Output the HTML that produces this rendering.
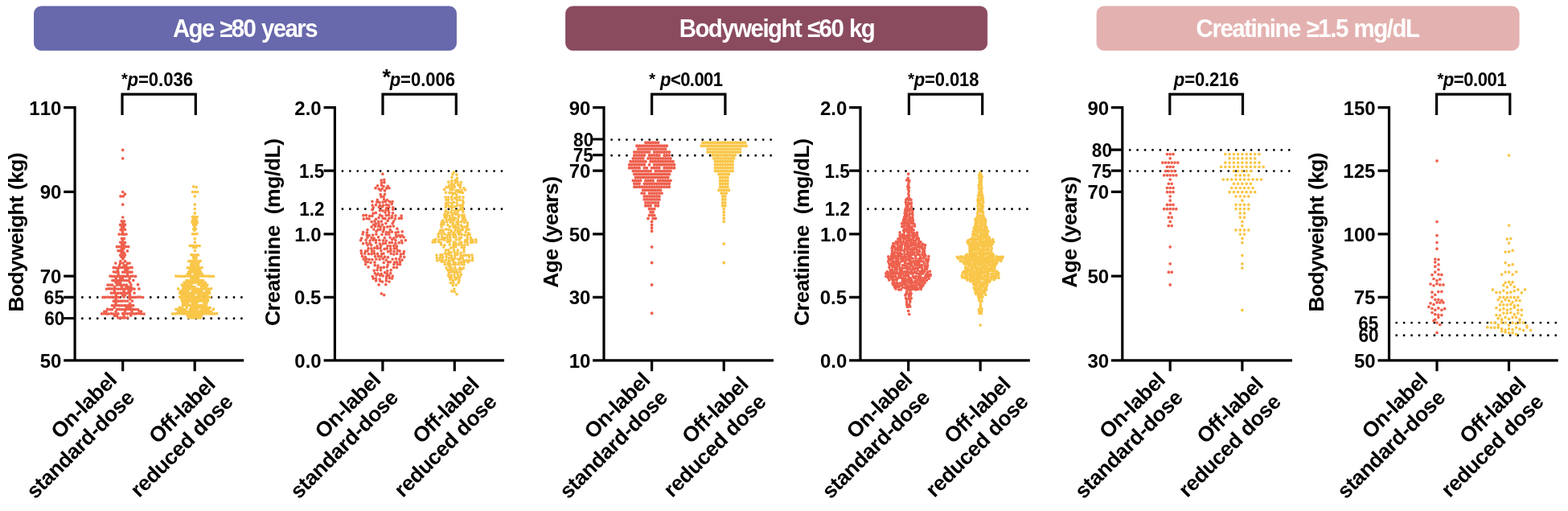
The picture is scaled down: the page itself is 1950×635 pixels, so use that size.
<!DOCTYPE html>
<html lang="en">
<head>
<meta charset="utf-8">
<title>Figure</title>
<style>
html,body{margin:0;padding:0;background:#fff;}
body{width:1950px;height:635px;overflow:hidden;}
svg{display:block;}
text{font-family:"Liberation Sans", Arial, Helvetica, sans-serif;font-weight:bold;fill:#000;font-kerning:none;}
.hd{font-size:31px;fill:#fff;}
.xl{font-size:26.5px;letter-spacing:-0.45px;}
</style>
</head>
<body>
<svg width="1950" height="635" viewBox="0 0 1950 635">
<rect width="1950" height="635" fill="#fff"/>
<rect x="42.5" y="7.9" width="525.0" height="54.5" rx="8.6" ry="8.6" fill="#6868ac" stroke="#6060a8" stroke-width="0.8"/>
<text transform="translate(214.88,46.1) scale(0.95,1)" class="hd" style="letter-spacing:-1.67px;word-spacing:1.00px">Age ≥80 years</text>
<rect x="703.6" y="7.9" width="524.1" height="54.5" rx="8.6" ry="8.6" fill="#8b4b5f" stroke="#84425a" stroke-width="0.8"/>
<text transform="translate(844.64,46.1) scale(0.95,1)" class="hd" style="letter-spacing:-1.59px;word-spacing:1.00px">Bodyweight ≤60 kg</text>
<rect x="1364.1" y="7.9" width="525.0" height="54.5" rx="8.6" ry="8.6" fill="#e3b2b0" stroke="#e2aaa9" stroke-width="0.8"/>
<text transform="translate(1487.59,46.1) scale(0.95,1)" class="hd" style="letter-spacing:-1.53px;word-spacing:1.00px">Creatinine ≥1.5 mg/dL</text>
<path d="M102.40 369.5H301.40" stroke="#000" stroke-width="2.9" stroke-linecap="round" stroke-dasharray="0 9.43" fill="none"/>
<path d="M102.40 395.7H301.40" stroke="#000" stroke-width="2.9" stroke-linecap="round" stroke-dasharray="0 9.43" fill="none"/>
<path d="M151.2 274.9h0M154.4 274.9h0M152.7 277.3h0M149.6 279.4h0M152.9 279.2h0M155.5 279.2h0M151.4 282.1h0M153.9 282.2h0M150.1 285.6h0M152.5 285.3h0M155.6 285.3h0M152.5 288.2h0M148.1 291.1h0M151.5 291.1h0M154.1 291.2h0M157.0 291.0h0M151.5 296.4h0M154.4 296.3h0M152.6 298.5h0M149.7 301.0h0M152.6 301.4h0M155.5 301.4h0M151.5 303.8h0M154.0 304.2h0M145.4 306.7h0M148.1 306.6h0M151.1 306.3h0M154.4 306.6h0M156.9 306.3h0M159.7 306.6h0M151.1 309.0h0M154.1 308.8h0M147.0 311.5h0M149.6 311.7h0M152.6 311.9h0M158.4 311.9h0M151.1 314.2h0M154.4 314.4h0M149.6 317.1h0M152.6 317.0h0M155.5 316.8h0M151.0 319.3h0M154.2 319.4h0M152.8 321.7h0M149.8 324.7h0M155.6 324.7h0M143.8 327.0h0M149.6 327.0h0M153.0 327.0h0M158.6 327.2h0M161.2 327.0h0M148.6 329.8h0M154.3 329.9h0M156.9 329.7h0M141.2 332.4h0M144.0 332.8h0M146.8 332.8h0M149.5 332.5h0M152.4 332.4h0M155.6 332.4h0M158.7 332.8h0M161.5 332.6h0M164.1 332.4h0M146.6 335.5h0M155.7 335.3h0M158.6 335.2h0M141.4 337.8h0M144.1 338.2h0M147.0 338.1h0M152.8 338.2h0M155.6 338.1h0M158.5 338.1h0M161.4 338.1h0M164.0 338.1h0M147.2 340.8h0M158.5 340.6h0M137.0 343.0h0M139.4 343.3h0M142.4 343.3h0M145.5 343.4h0M148.1 343.1h0M151.1 343.0h0M154.2 343.2h0M156.9 343.3h0M159.9 343.4h0M163.1 343.1h0M165.6 343.0h0M168.6 343.4h0M144.2 346.0h0M149.6 345.9h0M152.5 345.9h0M161.3 346.1h0M139.9 348.5h0M142.3 348.7h0M145.6 348.5h0M148.5 348.3h0M151.2 348.3h0M154.0 348.3h0M157.1 348.5h0M160.0 348.7h0M165.9 348.3h0M144.0 351.0h0M146.9 351.3h0M149.7 351.1h0M161.6 351.1h0M134.0 354.1h0M137.0 354.0h0M139.6 354.0h0M145.5 354.1h0M148.6 353.9h0M151.1 354.0h0M154.2 354.0h0M157.3 354.1h0M163.0 353.8h0M171.5 353.7h0M142.5 356.4h0M151.4 356.2h0M157.0 356.5h0M159.7 356.4h0M163.0 356.6h0M132.5 359.1h0M135.6 358.7h0M138.2 358.8h0M141.2 358.9h0M144.0 358.8h0M147.1 359.1h0M150.0 359.1h0M152.7 358.8h0M155.6 359.0h0M158.8 358.9h0M161.6 358.9h0M164.4 358.7h0M167.1 359.1h0M172.9 358.9h0M142.3 361.6h0M154.0 361.7h0M160.1 361.4h0M162.7 361.5h0M138.3 364.1h0M141.2 364.0h0M143.8 364.2h0M146.7 364.2h0M149.7 364.2h0M152.5 364.1h0M155.7 364.2h0M158.6 364.4h0M161.5 364.4h0M167.1 364.1h0M144.3 366.7h0M152.5 366.9h0M155.4 367.0h0M161.6 366.6h0M128.0 369.4h0M130.8 369.4h0M134.1 369.1h0M136.9 369.3h0M139.5 369.1h0M142.3 369.3h0M145.5 369.1h0M148.2 369.5h0M153.9 369.1h0M160.1 369.2h0M162.9 369.3h0M165.5 369.4h0M168.5 369.3h0M171.5 369.1h0M174.5 369.1h0M177.6 369.5h0M144.1 371.9h0M161.6 371.6h0M141.3 374.2h0M144.2 374.1h0M147.1 374.2h0M150.0 374.1h0M152.4 374.0h0M155.3 374.0h0M158.6 374.0h0M164.4 374.0h0M144.1 376.8h0M161.6 377.0h0M139.4 379.6h0M142.4 379.5h0M145.3 379.4h0M148.2 379.7h0M151.3 379.7h0M154.4 379.6h0M156.8 379.5h0M159.7 379.7h0M162.8 379.3h0M165.7 379.6h0M142.3 382.2h0M157.1 382.0h0M160.1 381.9h0M162.6 381.9h0M133.6 384.2h0M136.7 384.6h0M139.4 384.6h0M145.7 384.4h0M148.6 384.3h0M151.5 384.5h0M154.4 384.6h0M156.8 384.5h0M159.8 384.2h0M162.6 384.4h0M165.7 384.3h0M168.6 384.5h0M171.6 384.6h0M129.8 387.0h0M132.2 387.1h0M144.1 386.9h0M155.4 387.1h0M164.0 386.8h0M173.0 386.7h0M175.7 387.0h0M126.6 389.9h0M129.5 389.7h0M132.5 390.0h0M135.1 390.0h0M138.4 389.7h0M141.0 390.0h0M144.1 390.0h0M146.9 389.9h0M152.6 389.6h0M155.3 389.6h0M158.5 389.9h0M161.6 389.6h0M164.4 389.6h0M167.3 389.9h0M169.9 389.7h0M172.9 389.6h0M175.9 390.0h0M179.1 390.0h0M142.5 392.5h0M145.3 392.2h0M154.1 392.2h0M162.8 392.1h0M146.9 394.9h0M150.0 394.8h0M152.9 395.0h0M155.3 394.8h0M158.5 394.8h0M152.7 186.4h0M152.7 196.8h0M152.7 238.5h0M155.4 241.2h0M150.0 243.9h0M153.2 243.9h0M152.7 254.2h0M152.7 270.0h0" stroke="#ee5f4d" stroke-width="3.7" stroke-linecap="round" fill="none"/>
<path d="M242.2 264.9h0M239.4 269.3h0M242.1 269.4h0M245.3 269.6h0M240.8 272.0h0M243.7 271.8h0M239.3 274.1h0M241.9 274.5h0M244.8 274.4h0M239.2 276.7h0M241.9 276.5h0M245.3 276.7h0M240.5 279.6h0M243.9 279.2h0M242.2 281.8h0M240.6 284.6h0M243.4 284.6h0M241.9 286.3h0M239.5 290.8h0M242.3 290.8h0M245.0 290.6h0M242.3 296.7h0M242.5 301.1h0M236.3 305.4h0M239.4 305.3h0M242.1 305.5h0M245.1 305.3h0M248.2 305.5h0M240.8 307.4h0M243.6 307.4h0M242.4 311.5h0M237.9 316.7h0M240.5 316.8h0M243.7 316.7h0M246.5 316.8h0M240.6 319.5h0M243.9 319.5h0M241.0 321.6h0M243.9 321.7h0M234.8 324.6h0M237.6 324.4h0M240.7 324.4h0M243.4 324.6h0M246.8 324.5h0M249.2 324.4h0M238.0 327.4h0M240.6 327.2h0M243.7 327.1h0M246.8 327.4h0M237.6 329.8h0M240.6 330.1h0M243.8 330.0h0M246.4 329.8h0M233.4 332.7h0M236.2 332.8h0M239.1 332.6h0M242.2 332.7h0M245.4 332.7h0M248.1 332.8h0M251.1 332.6h0M236.3 335.2h0M239.3 335.1h0M242.4 335.4h0M245.3 335.3h0M248.2 335.2h0M234.7 337.9h0M238.1 338.1h0M240.8 337.8h0M243.8 337.9h0M246.5 337.9h0M249.6 337.8h0M233.3 340.5h0M236.6 340.7h0M241.9 340.6h0M244.9 340.7h0M247.8 340.5h0M251.2 340.4h0M218.9 343.1h0M221.9 343.1h0M224.8 343.3h0M227.7 343.3h0M230.4 343.2h0M233.7 343.1h0M236.6 343.1h0M239.4 343.4h0M242.3 343.1h0M245.0 343.2h0M247.9 343.0h0M250.9 343.1h0M254.0 343.1h0M256.8 343.1h0M259.8 343.1h0M262.6 343.4h0M265.5 343.3h0M237.8 345.9h0M240.7 345.7h0M243.6 346.0h0M246.4 345.7h0M231.9 348.7h0M234.7 348.7h0M238.0 348.4h0M240.6 348.3h0M243.8 348.4h0M246.3 348.4h0M249.3 348.3h0M252.5 348.4h0M229.0 351.0h0M232.3 351.3h0M235.1 351.2h0M237.9 351.3h0M240.8 351.3h0M243.7 351.1h0M246.6 351.3h0M249.7 351.2h0M252.5 351.4h0M255.4 351.2h0M226.2 354.0h0M229.4 353.7h0M231.8 353.7h0M234.7 353.8h0M238.0 354.0h0M246.8 353.7h0M249.7 353.9h0M252.5 353.9h0M255.1 353.8h0M257.9 354.0h0M228.0 356.6h0M230.9 356.3h0M233.8 356.5h0M236.1 356.3h0M239.4 356.6h0M242.1 356.3h0M250.7 356.5h0M253.7 356.3h0M256.6 356.5h0M221.7 358.9h0M227.6 358.9h0M230.7 359.0h0M233.5 358.9h0M236.3 358.8h0M239.6 358.8h0M242.2 358.7h0M244.9 358.8h0M247.9 359.1h0M250.8 359.0h0M253.8 359.0h0M256.8 358.7h0M259.8 359.1h0M262.6 358.7h0M224.8 361.5h0M227.5 361.4h0M230.7 361.6h0M233.8 361.6h0M239.3 361.5h0M242.4 361.5h0M245.2 361.6h0M248.1 361.7h0M250.8 361.4h0M256.6 361.8h0M259.8 361.4h0M223.6 364.2h0M226.1 364.2h0M228.9 364.0h0M231.8 364.0h0M234.9 364.2h0M238.1 364.0h0M241.0 364.4h0M243.7 364.1h0M246.8 364.3h0M249.6 364.1h0M252.6 364.0h0M255.1 364.4h0M258.2 364.2h0M260.8 364.2h0M226.2 366.8h0M229.4 366.8h0M232.3 367.0h0M235.0 367.0h0M238.1 366.6h0M240.8 366.9h0M246.5 366.9h0M249.5 366.9h0M252.6 366.9h0M255.1 366.6h0M257.9 366.6h0M223.6 369.1h0M226.0 369.5h0M229.0 369.5h0M232.3 369.2h0M235.0 369.2h0M238.0 369.4h0M240.9 369.2h0M243.6 369.1h0M246.6 369.2h0M249.4 369.3h0M252.4 369.3h0M255.5 369.5h0M258.4 369.2h0M261.3 369.1h0M226.1 372.1h0M229.3 371.8h0M232.3 371.7h0M234.9 372.1h0M238.1 372.0h0M241.0 371.8h0M243.9 372.1h0M246.5 371.8h0M249.2 371.7h0M252.6 372.1h0M255.4 371.9h0M258.3 372.0h0M226.5 374.3h0M229.2 373.9h0M232.0 373.9h0M234.9 373.9h0M237.7 374.3h0M240.8 374.1h0M243.5 374.3h0M246.6 374.2h0M249.5 373.9h0M252.4 373.9h0M255.4 374.1h0M258.4 373.9h0M227.5 377.0h0M230.7 376.8h0M233.8 376.8h0M239.2 376.8h0M242.4 376.7h0M244.9 376.7h0M253.8 376.6h0M256.9 376.6h0M227.5 379.5h0M230.4 379.3h0M233.2 379.6h0M236.3 379.4h0M239.6 379.7h0M242.0 379.3h0M245.3 379.7h0M247.9 379.7h0M250.6 379.4h0M253.7 379.6h0M256.5 379.6h0M223.2 382.2h0M226.5 382.2h0M232.3 382.4h0M237.7 382.3h0M240.6 382.3h0M243.4 382.0h0M246.4 382.4h0M249.7 382.4h0M252.5 382.3h0M255.0 382.4h0M258.1 382.3h0M261.2 382.4h0M218.9 384.3h0M221.6 384.6h0M224.7 384.3h0M227.5 384.2h0M230.4 384.5h0M236.4 384.3h0M239.2 384.2h0M242.1 384.2h0M245.4 384.5h0M251.0 384.3h0M254.1 384.5h0M256.5 384.5h0M259.4 384.3h0M265.5 384.2h0M221.6 387.2h0M224.8 386.9h0M227.7 387.1h0M230.4 387.1h0M233.2 387.1h0M236.5 387.2h0M239.6 386.9h0M242.1 386.9h0M244.8 387.3h0M248.3 386.9h0M251.2 387.2h0M253.9 387.1h0M256.7 387.1h0M259.7 387.1h0M262.8 387.2h0M214.5 389.9h0M217.5 389.8h0M220.2 389.6h0M223.4 389.6h0M226.5 389.8h0M229.2 389.8h0M231.9 389.9h0M235.2 389.8h0M238.1 390.0h0M241.0 389.6h0M243.8 389.7h0M246.6 389.8h0M249.4 389.9h0M252.1 389.9h0M255.5 389.8h0M257.9 389.6h0M260.8 390.0h0M263.9 389.9h0M266.8 389.9h0M269.7 389.6h0M233.2 392.2h0M236.5 392.1h0M239.3 392.1h0M242.0 392.2h0M245.1 392.0h0M248.2 392.1h0M251.0 392.0h0M234.7 394.8h0M238.0 394.7h0M240.7 395.0h0M243.8 394.6h0M246.4 394.8h0M249.2 395.0h0M240.7 231.8h0M244.2 232.5h0M239.4 238.5h0M242.7 238.5h0M245.7 238.5h0M242.2 243.9h0M242.2 254.2h0M242.2 259.6h0" stroke="#f9c648" stroke-width="3.7" stroke-linecap="round" fill="none"/>
<path d="M93.1 132.1V447.9M79.2 447.9H303.2M79.2 133.7H93.1M79.2 238.4H93.1M79.2 343.2H93.1M79.2 369.3H93.1M79.2 395.5H93.1M152.7 447.9v13.4M242.2 447.9v13.4" stroke="#000" stroke-width="3.2" fill="none"/>
<text x="76.38" y="142.6" font-size="24" text-anchor="end">110</text>
<text x="76.38" y="247.3" font-size="24" text-anchor="end">90</text>
<text x="76.38" y="352.1" font-size="24" text-anchor="end">70</text>
<text transform="translate(79.92,378.1) scale(0.92,1)" font-size="24.5" text-anchor="end">65</text>
<text transform="translate(80.22,404.3) scale(0.92,1)" font-size="24.5" text-anchor="end">60</text>
<text x="76.38" y="456.8" font-size="24" text-anchor="end">50</text>
<text transform="translate(28.8,385.7) rotate(-90)" x="-1.76" y="0" font-size="26.5" style="letter-spacing:-0.65px;word-spacing:1.07px">Bodyweight (kg)</text>
<path d="M152.0 143V117.2H243.3V143" stroke="#000" stroke-width="3.2" fill="none" stroke-linejoin="miter"/>
<text transform="translate(158.49,107.2) scale(0.92,1)" font-size="24" style="letter-spacing:-0.02px"><tspan font-style="italic">p</tspan>=0.036</text>
<text x="151.1" y="104.8" font-size="20">*</text>
<g transform="translate(146.7,474.0) rotate(-45)"><text class="xl" text-anchor="end" x="0" y="0">On-label</text><text class="xl" text-anchor="end" x="0" y="31">standard-dose</text></g>
<g transform="translate(269.2,479.3) rotate(-45)"><text class="xl" text-anchor="end" x="0" y="0">Off-label</text><text class="xl" text-anchor="end" x="0" y="31">reduced dose</text></g>
<path d="M425.95 212.6H624.95" stroke="#000" stroke-width="2.9" stroke-linecap="round" stroke-dasharray="0 9.43" fill="none"/>
<path d="M425.95 259.7H624.95" stroke="#000" stroke-width="2.9" stroke-linecap="round" stroke-dasharray="0 9.43" fill="none"/>
<path d="M474.2 224.0h0M477.8 223.3h0M474.4 227.2h0M477.9 226.7h0M469.6 230.8h0M474.4 230.1h0M477.0 231.5h0M482.3 231.3h0M467.0 233.7h0M471.2 234.8h0M475.2 234.6h0M480.6 233.9h0M483.9 233.7h0M473.3 236.6h0M478.5 236.9h0M473.3 241.6h0M478.6 241.3h0M474.0 244.6h0M477.2 244.2h0M469.3 248.4h0M477.6 247.5h0M481.6 248.5h0M463.0 250.3h0M468.7 251.0h0M471.9 251.4h0M476.0 251.1h0M479.3 250.4h0M484.6 250.7h0M488.0 250.7h0M463.1 255.0h0M467.6 254.7h0M472.6 255.2h0M476.7 255.2h0M480.5 254.4h0M483.4 255.1h0M487.2 253.6h0M464.3 257.8h0M471.4 257.4h0M475.3 257.0h0M480.6 258.7h0M483.8 257.4h0M488.7 257.8h0M463.0 260.7h0M472.5 261.4h0M476.0 261.8h0M479.9 260.8h0M483.0 261.5h0M488.7 260.3h0M464.1 265.2h0M467.4 264.4h0M479.1 263.9h0M483.8 264.0h0M488.5 264.9h0M451.9 267.7h0M455.3 267.4h0M459.6 268.4h0M463.0 268.4h0M472.4 267.1h0M475.1 268.5h0M480.2 267.6h0M483.5 267.2h0M487.5 268.7h0M491.9 268.1h0M499.1 268.2h0M452.3 272.2h0M456.2 271.4h0M459.1 272.0h0M467.5 272.3h0M471.1 270.6h0M476.3 271.3h0M479.0 271.7h0M483.9 271.2h0M487.4 270.6h0M491.4 271.8h0M496.3 271.3h0M499.4 271.2h0M462.1 275.6h0M465.8 274.8h0M470.6 275.3h0M474.3 275.1h0M482.2 274.3h0M489.6 275.0h0M464.7 279.1h0M467.5 277.9h0M471.2 278.3h0M475.5 279.0h0M479.8 277.5h0M488.2 277.7h0M462.1 281.9h0M466.7 281.3h0M470.5 281.0h0M473.3 281.8h0M477.6 282.4h0M481.7 281.8h0M485.3 281.4h0M489.4 281.0h0M457.0 285.6h0M465.0 285.0h0M470.0 285.4h0M473.0 285.1h0M477.5 284.9h0M485.2 285.5h0M493.9 284.2h0M451.7 288.5h0M456.4 289.0h0M468.0 287.6h0M476.3 287.8h0M480.4 288.6h0M483.8 288.9h0M487.4 288.1h0M492.1 289.1h0M495.1 288.4h0M500.2 287.8h0M451.1 291.0h0M456.2 292.1h0M459.1 292.6h0M463.7 292.1h0M467.9 291.0h0M475.0 291.5h0M480.1 291.2h0M483.8 291.2h0M492.6 292.1h0M496.3 292.5h0M499.9 292.5h0M449.7 296.0h0M457.0 294.9h0M462.0 295.7h0M465.2 296.0h0M470.5 294.7h0M478.3 295.6h0M485.1 295.0h0M489.9 295.8h0M493.2 294.3h0M498.0 294.3h0M502.1 294.7h0M448.6 298.6h0M455.2 298.1h0M460.1 299.1h0M464.1 298.2h0M467.6 298.6h0M471.9 298.5h0M476.4 298.8h0M480.3 299.0h0M487.7 297.7h0M492.0 298.7h0M499.4 299.0h0M504.4 298.6h0M451.6 302.6h0M455.8 301.8h0M460.0 302.3h0M467.6 301.6h0M472.4 302.8h0M476.5 302.7h0M479.5 302.2h0M484.4 301.6h0M487.5 301.5h0M491.8 302.4h0M496.2 301.7h0M500.1 301.8h0M457.2 304.6h0M461.7 304.7h0M469.0 305.8h0M473.7 305.4h0M482.1 305.6h0M485.6 305.9h0M489.8 305.4h0M493.4 305.9h0M458.1 308.7h0M462.0 308.9h0M465.8 308.2h0M469.5 308.5h0M473.0 308.2h0M478.1 309.4h0M481.2 308.9h0M485.7 309.3h0M490.2 308.9h0M493.1 308.3h0M449.1 311.7h0M454.4 312.2h0M457.0 311.8h0M462.6 311.9h0M465.0 312.2h0M474.0 311.6h0M482.7 312.7h0M485.9 311.6h0M490.1 312.5h0M494.4 311.4h0M497.1 311.9h0M502.4 312.7h0M449.5 314.9h0M453.7 315.1h0M458.5 315.5h0M462.1 315.6h0M465.6 315.1h0M469.5 315.3h0M474.6 315.5h0M477.0 315.1h0M486.2 315.1h0M489.8 316.0h0M493.6 315.2h0M498.4 315.9h0M501.8 315.3h0M450.5 318.4h0M454.3 319.3h0M466.7 318.7h0M470.7 318.4h0M474.1 318.6h0M478.4 319.2h0M482.4 319.7h0M498.2 319.0h0M502.7 319.3h0M452.1 322.0h0M455.6 321.7h0M459.1 322.3h0M463.0 322.6h0M467.9 322.0h0M472.2 322.2h0M476.3 321.7h0M480.2 323.0h0M488.1 322.1h0M492.5 321.7h0M496.6 322.1h0M500.1 323.0h0M454.4 324.9h0M457.3 325.5h0M461.0 326.3h0M466.0 325.9h0M477.3 326.3h0M482.6 325.5h0M485.3 325.6h0M490.5 326.2h0M493.4 325.5h0M497.5 325.7h0M454.7 328.5h0M466.2 329.7h0M470.1 330.1h0M482.2 329.2h0M489.9 328.5h0M494.3 328.4h0M497.5 328.6h0M458.1 331.8h0M470.0 332.4h0M473.7 332.5h0M477.3 332.2h0M481.4 331.8h0M489.7 332.3h0M493.4 332.3h0M465.2 336.1h0M469.1 335.5h0M473.6 335.6h0M481.8 336.5h0M486.2 335.7h0M466.3 339.5h0M470.1 340.2h0M474.2 340.3h0M478.6 338.7h0M481.4 339.9h0M485.7 339.5h0M463.4 343.5h0M468.1 342.1h0M472.7 342.3h0M476.2 342.8h0M480.7 343.3h0M483.7 342.7h0M488.2 343.1h0M464.2 346.1h0M467.5 346.0h0M472.2 347.1h0M480.5 346.2h0M484.6 345.4h0M487.6 346.0h0M467.7 348.8h0M472.7 349.1h0M475.6 350.1h0M480.3 349.0h0M484.0 350.0h0M471.1 353.8h0M479.8 353.6h0M475.9 216.2h0M474.4 364.8h0M477.7 366.6h0" stroke="#ee5f4d" stroke-width="3.7" stroke-linecap="round" fill="none"/>
<path d="M562.9 216.6h0M568.0 216.9h0M562.0 220.3h0M568.4 221.4h0M561.9 224.5h0M566.1 224.1h0M568.1 224.4h0M557.8 226.2h0M561.8 227.6h0M566.1 226.9h0M569.1 226.4h0M573.3 226.5h0M558.9 230.2h0M562.3 230.2h0M564.5 230.0h0M569.7 229.9h0M572.5 229.7h0M555.2 232.7h0M558.2 232.6h0M561.8 232.9h0M565.4 232.3h0M572.4 232.8h0M576.9 233.8h0M552.5 235.4h0M560.0 235.8h0M563.2 235.5h0M567.2 236.6h0M570.2 236.4h0M574.1 236.7h0M578.7 236.0h0M554.5 239.2h0M559.0 239.6h0M562.1 239.5h0M565.8 239.8h0M569.7 238.3h0M572.7 238.9h0M575.5 239.5h0M563.1 241.5h0M567.9 242.0h0M554.0 245.0h0M557.5 245.0h0M561.6 244.9h0M565.7 246.2h0M568.1 245.2h0M571.7 244.9h0M576.1 245.2h0M554.9 248.4h0M557.6 248.1h0M562.0 247.9h0M568.1 248.5h0M571.7 248.5h0M575.3 249.0h0M554.7 252.5h0M557.6 251.7h0M561.4 252.3h0M564.4 251.4h0M568.3 252.1h0M576.2 251.4h0M554.5 254.1h0M557.5 255.3h0M562.1 255.3h0M568.7 255.4h0M572.3 255.0h0M575.6 254.1h0M554.3 257.3h0M558.9 257.2h0M562.4 258.0h0M565.8 256.9h0M573.1 258.4h0M575.4 257.0h0M554.5 261.7h0M561.9 261.3h0M566.1 261.7h0M569.6 261.4h0M572.2 260.5h0M575.6 260.1h0M554.1 263.1h0M557.4 263.9h0M561.1 264.0h0M565.0 264.6h0M569.0 264.7h0M575.9 263.2h0M552.7 266.6h0M555.8 266.8h0M559.1 268.0h0M562.8 267.1h0M567.1 266.3h0M570.5 267.8h0M574.2 267.3h0M577.1 267.4h0M553.0 269.9h0M555.4 269.4h0M559.8 270.7h0M563.5 270.4h0M566.2 271.0h0M570.3 269.7h0M575.1 269.9h0M577.7 270.3h0M550.7 274.1h0M555.1 272.9h0M558.6 272.8h0M562.0 273.4h0M564.8 273.4h0M569.4 273.1h0M575.6 273.1h0M579.0 273.7h0M549.3 276.1h0M552.0 276.7h0M555.8 275.7h0M560.2 276.0h0M563.4 277.0h0M567.9 276.4h0M570.0 276.2h0M573.7 275.7h0M577.5 276.3h0M581.4 276.8h0M548.6 278.9h0M551.9 278.8h0M556.9 279.6h0M563.2 279.4h0M566.6 280.0h0M569.9 279.2h0M573.7 280.2h0M581.5 280.2h0M549.2 282.0h0M559.7 281.8h0M564.1 282.4h0M567.3 283.1h0M570.3 282.9h0M574.9 282.3h0M577.8 282.0h0M580.6 281.9h0M547.8 286.2h0M550.6 286.0h0M554.3 284.9h0M557.6 285.1h0M560.9 286.4h0M566.0 286.1h0M569.6 286.3h0M573.2 285.7h0M575.5 285.4h0M580.3 285.0h0M583.0 285.0h0M547.0 288.6h0M551.2 288.3h0M558.0 289.3h0M561.3 288.1h0M564.8 289.2h0M569.3 288.4h0M572.1 288.6h0M579.2 288.2h0M582.9 289.6h0M545.0 291.1h0M549.3 291.2h0M553.2 291.0h0M556.6 292.4h0M559.8 291.9h0M563.5 291.4h0M566.3 291.3h0M570.8 291.4h0M574.3 291.4h0M578.1 292.2h0M581.5 292.0h0M584.2 291.6h0M545.3 294.3h0M549.7 294.3h0M552.7 295.7h0M555.8 295.5h0M559.5 295.2h0M564.1 294.7h0M566.9 294.3h0M571.2 295.9h0M573.5 295.4h0M581.3 295.4h0M585.6 295.4h0M539.2 298.6h0M541.8 297.4h0M546.1 298.1h0M549.6 297.4h0M552.7 298.1h0M557.1 298.6h0M560.2 298.2h0M567.3 297.9h0M571.2 297.9h0M578.7 298.5h0M581.3 297.2h0M585.6 298.5h0M587.9 298.4h0M591.9 297.9h0M538.1 301.1h0M541.3 300.7h0M545.5 300.4h0M548.4 301.6h0M556.3 300.5h0M559.2 300.4h0M564.2 300.9h0M566.8 302.0h0M571.4 302.1h0M573.8 301.2h0M578.3 300.7h0M581.1 300.6h0M585.6 301.3h0M588.2 300.9h0M592.1 300.8h0M548.6 303.9h0M552.9 304.5h0M559.2 304.1h0M563.9 304.4h0M567.1 304.6h0M570.6 303.8h0M574.3 304.7h0M577.9 304.5h0M581.6 303.8h0M551.8 307.0h0M560.8 308.0h0M563.4 307.5h0M566.8 306.8h0M574.1 307.2h0M577.2 307.5h0M554.5 310.9h0M557.8 310.7h0M564.7 310.8h0M569.4 310.9h0M577.0 310.0h0M553.7 314.5h0M558.0 313.8h0M561.1 313.6h0M565.3 314.0h0M568.8 313.8h0M573.0 314.3h0M576.9 313.0h0M543.0 317.1h0M547.9 316.7h0M550.1 316.9h0M555.1 316.0h0M558.4 316.4h0M561.5 317.6h0M565.9 317.3h0M568.8 316.3h0M573.2 317.4h0M576.8 317.2h0M579.9 317.2h0M583.1 317.0h0M586.9 316.8h0M543.3 320.5h0M547.3 320.0h0M550.7 319.8h0M555.1 319.2h0M558.6 320.5h0M561.9 320.1h0M566.0 320.7h0M572.9 319.6h0M575.4 320.5h0M583.3 319.3h0M587.7 320.3h0M543.8 323.8h0M547.1 322.7h0M550.2 323.1h0M554.8 322.8h0M558.5 323.5h0M562.2 323.4h0M564.4 322.2h0M569.7 322.1h0M572.3 322.1h0M576.7 323.5h0M580.4 323.4h0M583.9 323.7h0M587.6 323.4h0M549.2 325.1h0M552.7 325.4h0M557.0 326.7h0M559.0 326.4h0M564.2 325.9h0M566.3 326.5h0M570.6 326.0h0M573.8 325.9h0M577.3 325.3h0M582.1 325.7h0M553.4 328.5h0M557.2 329.0h0M560.2 329.1h0M563.9 328.6h0M566.2 328.8h0M570.0 328.5h0M573.9 328.2h0M577.1 328.6h0M555.0 332.8h0M559.0 331.8h0M561.6 333.0h0M565.7 332.7h0M572.2 332.5h0M576.6 333.0h0M556.7 335.7h0M559.2 335.4h0M563.2 335.5h0M567.2 335.4h0M571.1 334.5h0M574.4 334.6h0M558.4 338.8h0M561.8 337.8h0M565.3 338.4h0M568.5 338.4h0M572.0 337.9h0M557.5 342.0h0M561.0 342.0h0M564.9 341.8h0M569.3 341.6h0M573.4 341.2h0M559.0 344.6h0M561.4 345.2h0M565.5 344.6h0M568.7 345.4h0M571.8 344.4h0M560.0 347.2h0M563.4 348.5h0M566.7 347.1h0M571.1 348.2h0M560.4 351.5h0M563.7 351.3h0M570.2 351.2h0M563.3 354.6h0M567.3 354.0h0M564.4 214.0h0M564.8 359.0h0M561.8 361.8h0M565.3 362.5h0M568.1 365.5h0" stroke="#f9c648" stroke-width="3.7" stroke-linecap="round" fill="none"/>
<path d="M416.4 132.1V447.9M402.6 447.9H627.0M402.6 133.7H416.4M402.6 212.2H416.4M402.6 290.8H416.4M402.6 369.3H416.4M475.9 447.9v13.4M565.3 447.9v13.4" stroke="#000" stroke-width="3.2" fill="none"/>
<text x="399.73" y="142.6" font-size="24" text-anchor="end">2.0</text>
<text transform="translate(403.27,221.1) scale(0.92,1)" font-size="24.5" text-anchor="end">1.5</text>
<text transform="translate(403.54,268.2) scale(0.92,1)" font-size="24.5" text-anchor="end">1.2</text>
<text x="399.73" y="299.7" font-size="24" text-anchor="end">1.0</text>
<text x="399.41" y="378.2" font-size="24" text-anchor="end">0.5</text>
<text x="399.73" y="456.8" font-size="24" text-anchor="end">0.0</text>
<text transform="translate(347.8,404.0) rotate(-90)" x="-1.09" y="0" font-size="26.5" style="letter-spacing:-0.45px;word-spacing:6.76px">Creatinine (mg/dL)</text>
<path d="M476.0 143V117.2H567.3V143" stroke="#000" stroke-width="3.2" fill="none" stroke-linejoin="miter"/>
<text transform="translate(484.69,107.2) scale(0.92,1)" font-size="24" style="letter-spacing:-0.06px"><tspan font-style="italic">p</tspan>=0.006</text>
<text x="475.5" y="104.5" font-size="27">*</text>
<g transform="translate(474.8,474.0) rotate(-45)"><text class="xl" text-anchor="end" x="0" y="0">On-label</text><text class="xl" text-anchor="end" x="0" y="31">standard-dose</text></g>
<g transform="translate(597.1,479.3) rotate(-45)"><text class="xl" text-anchor="end" x="0" y="0">Off-label</text><text class="xl" text-anchor="end" x="0" y="31">reduced dose</text></g>
<path d="M760.60 173.6H959.60" stroke="#000" stroke-width="2.9" stroke-linecap="round" stroke-dasharray="0 9.43" fill="none"/>
<path d="M760.60 193.2H959.60" stroke="#000" stroke-width="2.9" stroke-linecap="round" stroke-dasharray="0 9.43" fill="none"/>
<path d="M802.9 177.3h0M806.0 177.3h0M809.1 177.3h0M812.1 177.3h0M815.2 177.3h0M818.4 177.3h0M792.0 181.2h0M795.1 181.2h0M798.2 181.2h0M801.3 181.2h0M804.4 181.2h0M807.5 181.2h0M810.6 181.2h0M813.7 181.2h0M816.8 181.2h0M819.9 181.2h0M823.0 181.2h0M826.1 181.2h0M829.2 181.2h0M793.6 185.1h0M796.6 185.1h0M799.8 185.1h0M802.9 185.1h0M806.0 185.1h0M809.1 185.1h0M812.1 185.1h0M815.2 185.1h0M818.4 185.1h0M821.5 185.1h0M824.6 185.1h0M827.6 185.1h0M788.9 189.0h0M792.0 189.0h0M795.1 189.0h0M798.2 189.0h0M801.3 189.0h0M804.4 189.0h0M807.5 189.0h0M813.7 189.0h0M816.8 189.0h0M819.9 189.0h0M823.0 189.0h0M826.1 189.0h0M829.2 189.0h0M832.3 189.0h0M788.9 193.0h0M792.0 193.0h0M795.1 193.0h0M798.2 193.0h0M801.3 193.0h0M807.5 193.0h0M810.6 193.0h0M813.7 193.0h0M816.8 193.0h0M819.9 193.0h0M826.1 193.0h0M829.2 193.0h0M832.3 193.0h0M787.4 196.9h0M790.5 196.9h0M793.6 196.9h0M796.6 196.9h0M799.8 196.9h0M806.0 196.9h0M809.1 196.9h0M812.1 196.9h0M815.2 196.9h0M818.4 196.9h0M821.5 196.9h0M824.6 196.9h0M827.6 196.9h0M830.8 196.9h0M833.9 196.9h0M784.2 200.8h0M787.4 200.8h0M790.5 200.8h0M793.6 200.8h0M796.6 200.8h0M799.8 200.8h0M802.9 200.8h0M809.1 200.8h0M812.1 200.8h0M815.2 200.8h0M818.4 200.8h0M821.5 200.8h0M824.6 200.8h0M827.6 200.8h0M830.8 200.8h0M833.9 200.8h0M837.0 200.8h0M782.7 204.7h0M785.8 204.7h0M788.9 204.7h0M792.0 204.7h0M795.1 204.7h0M798.2 204.7h0M801.3 204.7h0M807.5 204.7h0M813.7 204.7h0M816.8 204.7h0M819.9 204.7h0M823.0 204.7h0M826.1 204.7h0M829.2 204.7h0M832.3 204.7h0M835.4 204.7h0M838.5 204.7h0M782.7 208.7h0M785.8 208.7h0M788.9 208.7h0M792.0 208.7h0M795.1 208.7h0M801.3 208.7h0M804.4 208.7h0M810.6 208.7h0M813.7 208.7h0M816.8 208.7h0M819.9 208.7h0M826.1 208.7h0M829.2 208.7h0M832.3 208.7h0M835.4 208.7h0M838.5 208.7h0M787.4 212.6h0M790.5 212.6h0M793.6 212.6h0M796.6 212.6h0M799.8 212.6h0M802.9 212.6h0M806.0 212.6h0M809.1 212.6h0M815.2 212.6h0M818.4 212.6h0M821.5 212.6h0M824.6 212.6h0M827.6 212.6h0M830.8 212.6h0M833.9 212.6h0M788.9 216.5h0M792.0 216.5h0M795.1 216.5h0M798.2 216.5h0M801.3 216.5h0M804.4 216.5h0M807.5 216.5h0M810.6 216.5h0M813.7 216.5h0M816.8 216.5h0M819.9 216.5h0M823.0 216.5h0M826.1 216.5h0M829.2 216.5h0M832.3 216.5h0M790.5 220.5h0M793.6 220.5h0M796.6 220.5h0M799.8 220.5h0M802.9 220.5h0M806.0 220.5h0M809.1 220.5h0M812.1 220.5h0M815.2 220.5h0M818.4 220.5h0M821.5 220.5h0M824.6 220.5h0M827.6 220.5h0M830.8 220.5h0M787.4 224.4h0M790.5 224.4h0M793.6 224.4h0M796.6 224.4h0M802.9 224.4h0M806.0 224.4h0M809.1 224.4h0M812.1 224.4h0M818.4 224.4h0M821.5 224.4h0M824.6 224.4h0M827.6 224.4h0M830.8 224.4h0M833.9 224.4h0M788.9 228.3h0M792.0 228.3h0M795.1 228.3h0M801.3 228.3h0M804.4 228.3h0M807.5 228.3h0M810.6 228.3h0M813.7 228.3h0M816.8 228.3h0M819.9 228.3h0M823.0 228.3h0M826.1 228.3h0M829.2 228.3h0M832.3 228.3h0M788.9 232.2h0M792.0 232.2h0M795.1 232.2h0M798.2 232.2h0M801.3 232.2h0M804.4 232.2h0M807.5 232.2h0M810.6 232.2h0M813.7 232.2h0M816.8 232.2h0M819.9 232.2h0M823.0 232.2h0M826.1 232.2h0M829.2 232.2h0M832.3 232.2h0M799.8 236.2h0M802.9 236.2h0M806.0 236.2h0M809.1 236.2h0M812.1 236.2h0M815.2 236.2h0M818.4 236.2h0M821.5 236.2h0M798.2 240.1h0M801.3 240.1h0M807.5 240.1h0M810.6 240.1h0M813.7 240.1h0M816.8 240.1h0M819.9 240.1h0M823.0 240.1h0M801.3 244.0h0M804.4 244.0h0M807.5 244.0h0M810.6 244.0h0M813.7 244.0h0M816.8 244.0h0M819.9 244.0h0M801.3 247.9h0M804.4 247.9h0M807.5 247.9h0M810.6 247.9h0M813.7 247.9h0M816.8 247.9h0M819.9 247.9h0M802.9 251.9h0M806.0 251.9h0M809.1 251.9h0M812.1 251.9h0M815.2 251.9h0M818.4 251.9h0M802.9 255.8h0M806.0 255.8h0M809.1 255.8h0M815.2 255.8h0M818.4 255.8h0M807.5 259.7h0M810.6 259.7h0M813.7 259.7h0M809.1 263.7h0M812.1 263.7h0M807.5 267.6h0M810.6 267.6h0M813.7 267.6h0M806.0 271.5h0M812.1 271.5h0M815.2 271.5h0M810.6 275.4h0M810.6 279.4h0M810.6 283.3h0M810.6 287.2h0M810.6 306.9h0M810.6 326.5h0M810.6 354.0h0M810.6 389.3h0" stroke="#ee5f4d" stroke-width="3.9" stroke-linecap="round" fill="none"/>
<path d="M873.9 177.3h0M877.0 177.3h0M880.1 177.3h0M883.2 177.3h0M886.2 177.3h0M889.4 177.3h0M892.5 177.3h0M895.6 177.3h0M898.7 177.3h0M901.8 177.3h0M904.9 177.3h0M908.0 177.3h0M911.1 177.3h0M914.2 177.3h0M917.2 177.3h0M920.4 177.3h0M923.5 177.3h0M926.6 177.3h0M872.3 181.2h0M875.4 181.2h0M878.5 181.2h0M881.6 181.2h0M884.7 181.2h0M887.8 181.2h0M890.9 181.2h0M894.0 181.2h0M897.1 181.2h0M900.2 181.2h0M903.3 181.2h0M906.4 181.2h0M909.5 181.2h0M912.6 181.2h0M915.7 181.2h0M918.8 181.2h0M921.9 181.2h0M925.0 181.2h0M928.1 181.2h0M880.1 185.1h0M883.2 185.1h0M886.2 185.1h0M889.4 185.1h0M892.5 185.1h0M895.6 185.1h0M898.7 185.1h0M901.8 185.1h0M904.9 185.1h0M908.0 185.1h0M911.1 185.1h0M914.2 185.1h0M917.2 185.1h0M920.4 185.1h0M880.1 189.0h0M883.2 189.0h0M886.2 189.0h0M889.4 189.0h0M892.5 189.0h0M895.6 189.0h0M898.7 189.0h0M901.8 189.0h0M904.9 189.0h0M908.0 189.0h0M911.1 189.0h0M914.2 189.0h0M917.2 189.0h0M920.4 189.0h0M886.2 193.0h0M889.4 193.0h0M892.5 193.0h0M895.6 193.0h0M898.7 193.0h0M901.8 193.0h0M904.9 193.0h0M908.0 193.0h0M911.1 193.0h0M914.2 193.0h0M887.8 196.9h0M890.9 196.9h0M894.0 196.9h0M897.1 196.9h0M900.2 196.9h0M903.3 196.9h0M906.4 196.9h0M909.5 196.9h0M912.6 196.9h0M889.4 200.8h0M892.5 200.8h0M895.6 200.8h0M898.7 200.8h0M901.8 200.8h0M904.9 200.8h0M908.0 200.8h0M911.1 200.8h0M889.4 204.7h0M892.5 204.7h0M895.6 204.7h0M898.7 204.7h0M901.8 204.7h0M904.9 204.7h0M908.0 204.7h0M911.1 204.7h0M889.4 208.7h0M892.5 208.7h0M895.6 208.7h0M898.7 208.7h0M901.8 208.7h0M904.9 208.7h0M908.0 208.7h0M911.1 208.7h0M889.4 212.6h0M892.5 212.6h0M895.6 212.6h0M898.7 212.6h0M901.8 212.6h0M904.9 212.6h0M908.0 212.6h0M911.1 212.6h0M894.0 216.5h0M897.1 216.5h0M900.2 216.5h0M903.3 216.5h0M906.4 216.5h0M895.6 220.5h0M898.7 220.5h0M901.8 220.5h0M904.9 220.5h0M895.6 224.4h0M898.7 224.4h0M901.8 224.4h0M904.9 224.4h0M895.6 228.3h0M898.7 228.3h0M901.8 228.3h0M904.9 228.3h0M895.6 232.2h0M898.7 232.2h0M901.8 232.2h0M904.9 232.2h0M894.0 236.2h0M897.1 236.2h0M900.2 236.2h0M903.3 236.2h0M906.4 236.2h0M897.1 240.1h0M900.2 240.1h0M903.3 240.1h0M898.7 244.0h0M901.8 244.0h0M898.7 247.9h0M901.8 247.9h0M898.7 251.9h0M901.8 251.9h0M898.7 255.8h0M901.8 255.8h0M900.2 259.7h0M900.2 275.4h0M900.2 263.7h0M900.2 267.6h0M900.2 271.5h0M900.2 302.9h0M900.2 326.5h0" stroke="#f9c648" stroke-width="3.9" stroke-linecap="round" fill="none"/>
<path d="M751.0 132.1V447.9M737.1 447.9H962.0M737.1 133.7H751.0M737.1 173.0H751.0M737.1 192.6H751.0M737.1 212.2H751.0M737.1 290.8H751.0M737.1 369.3H751.0M810.6 447.9v13.4M900.2 447.9v13.4" stroke="#000" stroke-width="3.2" fill="none"/>
<text x="734.33" y="142.6" font-size="24" text-anchor="end">90</text>
<text transform="translate(738.17,181.8) scale(0.92,1)" font-size="24.5" text-anchor="end">80</text>
<text transform="translate(737.87,201.4) scale(0.92,1)" font-size="24.5" text-anchor="end">75</text>
<text x="734.33" y="221.2" font-size="24" text-anchor="end">70</text>
<text x="734.33" y="299.7" font-size="24" text-anchor="end">50</text>
<text x="734.33" y="378.2" font-size="24" text-anchor="end">30</text>
<text x="734.33" y="456.8" font-size="24" text-anchor="end">10</text>
<text transform="translate(694.2,357.1) rotate(-90)" x="-0.65" y="0" font-size="26.5" style="letter-spacing:-0.60px;word-spacing:0.42px">Age (years)</text>
<path d="M810.6 143V117.2H901.9V143" stroke="#000" stroke-width="3.2" fill="none" stroke-linejoin="miter"/>
<text transform="translate(820.99,107.2) scale(0.92,1)" font-size="24" style="letter-spacing:-0.65px"><tspan font-style="italic">p</tspan>&lt;0.001</text>
<text x="807.2" y="104.8" font-size="20">*</text>
<g transform="translate(809.8,474.0) rotate(-45)"><text class="xl" text-anchor="end" x="0" y="0">On-label</text><text class="xl" text-anchor="end" x="0" y="31">standard-dose</text></g>
<g transform="translate(932.1,479.3) rotate(-45)"><text class="xl" text-anchor="end" x="0" y="0">Off-label</text><text class="xl" text-anchor="end" x="0" y="31">reduced dose</text></g>
<path d="M1079.40 212.6H1278.40" stroke="#000" stroke-width="2.9" stroke-linecap="round" stroke-dasharray="0 9.43" fill="none"/>
<path d="M1079.40 259.7H1278.40" stroke="#000" stroke-width="2.9" stroke-linecap="round" stroke-dasharray="0 9.43" fill="none"/>
<path d="M1129.2 221.4h0M1127.6 223.8h0M1130.9 224.7h0M1130.0 227.2h0M1129.7 229.6h0M1128.8 231.8h0M1130.6 233.0h0M1129.3 234.9h0M1130.3 237.4h0M1129.8 240.6h0M1130.2 243.0h0M1128.6 246.6h0M1130.6 246.2h0M1126.8 248.2h0M1130.0 248.2h0M1133.0 248.2h0M1126.4 251.1h0M1129.9 251.8h0M1133.4 252.0h0M1127.0 253.7h0M1129.9 254.1h0M1133.0 253.4h0M1127.2 256.8h0M1129.1 256.6h0M1133.4 256.9h0M1126.2 259.3h0M1129.6 259.8h0M1132.9 258.9h0M1125.7 261.6h0M1127.9 262.4h0M1131.2 262.1h0M1134.8 261.8h0M1125.2 265.0h0M1127.6 264.3h0M1131.5 265.5h0M1134.7 264.5h0M1125.7 267.3h0M1128.0 267.2h0M1130.6 267.0h0M1134.9 266.9h0M1124.6 269.8h0M1127.9 269.8h0M1131.5 270.2h0M1134.9 270.1h0M1123.8 272.8h0M1126.6 272.4h0M1130.1 273.2h0M1133.1 273.0h0M1135.4 273.4h0M1123.4 275.1h0M1126.3 275.5h0M1129.8 275.2h0M1133.1 276.1h0M1135.2 275.8h0M1121.6 277.9h0M1124.9 278.2h0M1128.0 277.9h0M1131.0 278.6h0M1134.7 277.7h0M1137.1 278.5h0M1121.9 281.6h0M1124.6 280.3h0M1127.9 281.0h0M1130.6 280.8h0M1134.1 281.6h0M1137.6 280.9h0M1124.7 283.8h0M1128.2 283.4h0M1131.4 283.3h0M1134.2 283.8h0M1123.7 286.4h0M1126.3 286.2h0M1129.8 286.0h0M1133.3 286.0h0M1136.2 285.8h0M1119.1 288.9h0M1124.4 288.7h0M1128.8 288.6h0M1131.0 288.5h0M1134.4 289.0h0M1136.8 289.5h0M1140.5 289.1h0M1119.1 292.4h0M1122.3 291.6h0M1124.5 292.3h0M1128.2 292.4h0M1131.1 291.7h0M1134.6 292.3h0M1137.8 291.7h0M1140.4 292.2h0M1119.4 294.8h0M1121.8 294.6h0M1125.0 294.0h0M1128.7 295.0h0M1131.1 294.1h0M1135.0 294.4h0M1137.1 294.4h0M1140.8 294.3h0M1116.9 296.9h0M1119.9 297.6h0M1123.9 296.9h0M1126.5 296.6h0M1130.1 297.3h0M1132.6 297.5h0M1135.3 297.3h0M1139.5 297.3h0M1142.5 296.7h0M1114.4 300.4h0M1117.4 300.0h0M1120.1 300.0h0M1123.6 300.0h0M1127.3 299.6h0M1129.9 299.4h0M1132.8 299.9h0M1136.4 299.4h0M1138.6 299.8h0M1142.6 299.7h0M1145.0 300.5h0M1110.9 302.6h0M1113.8 302.1h0M1116.8 302.9h0M1120.5 302.4h0M1123.9 302.0h0M1126.8 302.3h0M1129.1 303.0h0M1132.6 302.2h0M1135.8 302.3h0M1138.7 303.0h0M1142.0 302.6h0M1144.6 302.0h0M1147.8 303.3h0M1109.8 305.9h0M1112.3 305.8h0M1116.3 305.1h0M1119.2 305.8h0M1121.6 304.6h0M1125.6 305.4h0M1128.4 305.5h0M1131.8 305.5h0M1134.1 304.8h0M1137.3 304.9h0M1140.8 305.9h0M1143.6 305.6h0M1146.7 305.4h0M1150.5 304.7h0M1109.3 308.4h0M1112.6 307.4h0M1115.9 308.3h0M1118.8 308.1h0M1121.3 307.6h0M1125.7 308.6h0M1128.8 307.7h0M1130.8 308.1h0M1134.6 308.6h0M1137.7 308.1h0M1139.9 308.6h0M1143.8 307.4h0M1146.6 308.0h0M1149.9 307.9h0M1109.5 310.9h0M1113.3 310.2h0M1116.4 310.8h0M1119.4 310.2h0M1121.3 310.9h0M1124.8 310.6h0M1128.4 311.1h0M1131.8 310.1h0M1133.9 310.2h0M1136.9 310.1h0M1140.4 311.2h0M1143.1 311.1h0M1147.4 310.1h0M1149.4 310.6h0M1109.6 313.9h0M1112.6 313.7h0M1115.8 313.9h0M1119.1 313.9h0M1124.7 313.0h0M1128.7 313.5h0M1131.8 313.7h0M1134.5 312.8h0M1137.2 313.8h0M1140.7 313.3h0M1143.5 312.8h0M1147.3 313.8h0M1149.5 313.4h0M1109.1 315.9h0M1112.2 316.7h0M1116.3 316.3h0M1118.6 316.6h0M1121.5 315.8h0M1125.2 316.0h0M1128.4 315.8h0M1131.7 316.6h0M1134.4 316.4h0M1136.8 315.8h0M1140.9 315.9h0M1143.3 316.7h0M1146.9 316.3h0M1150.3 316.2h0M1104.8 318.9h0M1108.5 318.5h0M1110.9 319.4h0M1114.1 319.1h0M1116.7 318.9h0M1120.3 319.1h0M1123.7 319.1h0M1126.0 319.3h0M1129.3 318.2h0M1132.2 318.9h0M1138.7 318.3h0M1144.8 319.4h0M1149.0 318.8h0M1151.0 318.1h0M1154.9 318.6h0M1105.4 321.4h0M1108.3 321.7h0M1110.7 321.2h0M1114.4 321.7h0M1117.2 321.8h0M1120.9 321.6h0M1123.6 321.1h0M1127.0 321.8h0M1130.3 321.1h0M1132.8 320.9h0M1135.2 321.1h0M1139.0 320.9h0M1142.8 321.9h0M1145.2 321.3h0M1148.5 320.8h0M1152.0 321.9h0M1154.7 322.0h0M1104.6 324.8h0M1108.0 323.7h0M1111.1 324.9h0M1114.5 324.6h0M1117.0 324.8h0M1120.9 324.7h0M1122.9 323.9h0M1126.2 324.0h0M1130.1 323.6h0M1132.3 324.5h0M1135.7 324.8h0M1138.4 324.0h0M1141.6 324.1h0M1144.9 324.2h0M1147.8 324.9h0M1151.5 323.7h0M1154.0 324.4h0M1105.8 327.5h0M1109.2 327.1h0M1112.4 326.9h0M1115.7 327.5h0M1118.6 327.4h0M1125.5 326.6h0M1128.7 327.6h0M1131.5 327.2h0M1133.7 327.1h0M1137.6 327.5h0M1140.7 326.7h0M1143.2 326.5h0M1149.8 327.4h0M1153.4 326.3h0M1106.5 329.2h0M1109.7 330.1h0M1112.2 329.3h0M1115.4 329.6h0M1118.2 330.1h0M1122.5 329.6h0M1125.2 329.6h0M1128.0 330.3h0M1131.9 329.0h0M1134.1 330.0h0M1138.0 329.4h0M1141.2 329.2h0M1143.8 329.9h0M1146.4 329.4h0M1150.1 329.9h0M1153.6 329.7h0M1105.9 332.2h0M1109.8 331.6h0M1112.8 332.7h0M1115.2 332.6h0M1119.0 332.6h0M1122.1 333.0h0M1125.1 333.0h0M1127.8 332.7h0M1131.1 332.4h0M1135.0 331.9h0M1138.1 333.0h0M1140.5 332.9h0M1143.5 332.1h0M1146.5 332.4h0M1150.5 331.6h0M1153.1 332.2h0M1107.1 335.3h0M1109.4 335.3h0M1113.1 335.1h0M1115.3 334.8h0M1119.1 334.9h0M1121.7 334.9h0M1128.3 335.7h0M1130.8 334.5h0M1134.0 335.1h0M1137.2 334.8h0M1141.2 335.0h0M1146.8 335.2h0M1150.3 334.5h0M1152.5 334.4h0M1103.3 337.7h0M1106.9 338.4h0M1110.2 337.7h0M1112.0 338.0h0M1115.6 338.2h0M1119.4 337.2h0M1121.7 337.5h0M1125.1 337.6h0M1128.1 337.4h0M1131.4 338.3h0M1133.7 337.5h0M1137.4 338.0h0M1139.9 338.0h0M1143.9 337.3h0M1147.2 337.9h0M1149.8 337.4h0M1153.6 338.1h0M1156.4 337.1h0M1101.8 339.8h0M1104.6 340.8h0M1108.0 340.3h0M1110.9 340.0h0M1114.1 340.2h0M1117.8 340.4h0M1120.4 339.9h0M1122.8 340.1h0M1126.7 340.2h0M1129.3 340.9h0M1133.1 339.9h0M1135.4 339.9h0M1139.6 339.7h0M1142.7 340.6h0M1145.4 340.1h0M1147.8 339.9h0M1151.8 341.0h0M1154.4 341.0h0M1157.1 341.0h0M1101.9 343.4h0M1105.2 343.4h0M1108.2 343.1h0M1110.9 342.9h0M1113.7 343.4h0M1117.9 343.0h0M1119.9 342.6h0M1123.9 342.7h0M1127.0 342.5h0M1130.0 343.7h0M1135.4 343.5h0M1138.7 343.5h0M1142.0 343.6h0M1144.9 343.6h0M1151.0 343.1h0M1154.2 343.4h0M1157.1 342.6h0M1104.7 345.3h0M1108.4 345.7h0M1110.4 345.1h0M1114.8 346.1h0M1117.2 345.5h0M1120.8 345.2h0M1122.9 346.1h0M1126.0 345.8h0M1130.1 346.1h0M1132.4 345.9h0M1136.5 345.1h0M1138.3 345.2h0M1142.3 346.2h0M1144.6 345.7h0M1148.1 345.5h0M1151.2 345.2h0M1155.2 346.1h0M1105.8 348.0h0M1110.2 348.4h0M1112.5 347.8h0M1115.3 348.0h0M1122.4 348.4h0M1124.9 348.4h0M1128.4 348.0h0M1131.5 348.5h0M1133.7 348.2h0M1138.0 349.2h0M1140.4 348.1h0M1143.8 348.8h0M1146.9 348.6h0M1149.4 348.5h0M1152.4 348.3h0M1110.1 351.9h0M1112.1 351.3h0M1115.4 351.7h0M1119.1 351.8h0M1122.3 350.9h0M1125.6 351.2h0M1127.9 350.6h0M1131.1 351.2h0M1134.5 350.7h0M1137.8 351.2h0M1140.2 350.6h0M1143.5 351.8h0M1146.7 351.3h0M1150.1 351.5h0M1110.8 353.8h0M1114.0 354.4h0M1116.7 354.2h0M1120.7 354.5h0M1123.6 353.2h0M1126.0 353.9h0M1129.1 354.4h0M1133.0 353.5h0M1135.6 354.3h0M1139.1 354.4h0M1142.0 353.5h0M1145.0 354.5h0M1148.1 354.4h0M1112.6 356.9h0M1116.0 356.2h0M1118.3 356.2h0M1122.5 357.1h0M1125.4 357.3h0M1128.7 356.5h0M1131.4 356.7h0M1134.5 356.6h0M1136.8 356.9h0M1140.0 357.2h0M1144.1 356.5h0M1146.3 356.4h0M1114.1 359.0h0M1117.9 359.9h0M1120.5 359.8h0M1127.0 358.8h0M1130.0 359.8h0M1133.3 359.8h0M1136.1 359.0h0M1138.8 359.9h0M1141.8 359.3h0M1145.3 359.2h0M1127.6 362.5h0M1131.9 361.7h0M1126.8 365.3h0M1130.2 365.0h0M1133.1 364.7h0M1125.9 366.9h0M1130.3 367.8h0M1132.3 367.1h0M1126.6 370.6h0M1130.3 370.6h0M1133.2 370.5h0M1127.7 372.7h0M1131.8 372.6h0M1127.6 375.7h0M1131.8 375.1h0M1127.7 378.7h0M1130.8 378.7h0M1128.4 381.5h0M1131.8 380.9h0M1129.7 216.2h0M1129.7 386.4h0M1130.7 390.5h0" stroke="#ee5f4d" stroke-width="3.7" stroke-linecap="round" fill="none"/>
<path d="M1218.9 214.7h0M1217.7 217.8h0M1220.3 217.5h0M1217.8 220.6h0M1221.2 219.9h0M1218.1 222.3h0M1220.2 223.0h0M1218.2 225.8h0M1220.4 224.8h0M1218.3 227.4h0M1220.3 227.3h0M1217.2 230.3h0M1220.3 230.3h0M1217.4 233.5h0M1221.0 233.2h0M1218.1 235.8h0M1220.4 235.5h0M1217.6 238.9h0M1220.7 237.8h0M1218.1 240.8h0M1221.0 240.4h0M1216.4 243.0h0M1219.1 243.1h0M1221.7 242.9h0M1216.5 246.6h0M1219.8 246.5h0M1222.4 246.1h0M1215.9 248.6h0M1218.9 249.1h0M1222.3 248.8h0M1216.4 250.9h0M1218.7 250.7h0M1222.8 251.4h0M1216.6 253.7h0M1219.8 253.8h0M1221.7 253.7h0M1216.1 256.0h0M1219.8 256.2h0M1222.6 256.6h0M1216.7 259.0h0M1218.7 259.7h0M1221.9 258.5h0M1216.5 261.9h0M1219.1 261.2h0M1222.0 262.2h0M1215.9 264.2h0M1219.7 263.7h0M1222.6 264.0h0M1215.8 266.4h0M1219.3 267.5h0M1222.7 267.2h0M1214.9 270.1h0M1217.2 269.1h0M1221.3 269.2h0M1223.5 269.8h0M1212.9 272.7h0M1216.1 271.5h0M1219.6 271.7h0M1222.5 272.6h0M1225.1 272.1h0M1213.3 274.3h0M1215.9 274.3h0M1219.1 274.4h0M1222.0 275.3h0M1225.6 274.4h0M1213.3 277.3h0M1215.8 277.3h0M1219.2 277.0h0M1222.0 277.9h0M1225.5 276.7h0M1212.8 280.2h0M1215.8 280.4h0M1219.4 280.0h0M1222.8 279.7h0M1225.3 279.9h0M1211.2 283.0h0M1214.6 282.9h0M1218.0 283.0h0M1220.3 282.3h0M1224.1 282.8h0M1226.9 282.6h0M1211.8 284.5h0M1214.5 284.6h0M1218.2 284.8h0M1220.9 285.3h0M1224.0 284.6h0M1226.9 284.9h0M1210.5 287.3h0M1213.8 287.2h0M1216.5 287.6h0M1218.7 287.3h0M1222.4 287.3h0M1225.2 287.8h0M1228.8 287.3h0M1210.2 290.4h0M1212.8 290.7h0M1216.0 289.8h0M1219.7 290.1h0M1222.3 290.5h0M1225.1 289.8h0M1227.8 290.0h0M1209.8 292.5h0M1212.9 292.6h0M1215.9 293.0h0M1219.3 293.1h0M1221.9 292.3h0M1225.1 292.4h0M1228.2 292.9h0M1208.9 296.0h0M1211.7 295.9h0M1215.3 296.0h0M1218.3 295.8h0M1220.3 295.5h0M1223.5 295.3h0M1226.2 295.2h0M1230.2 295.0h0M1204.1 298.7h0M1206.7 297.6h0M1209.7 298.3h0M1212.9 297.6h0M1215.8 297.7h0M1218.9 298.3h0M1221.9 297.5h0M1225.7 298.6h0M1228.2 297.9h0M1231.2 298.0h0M1234.8 297.7h0M1203.0 300.9h0M1205.2 300.3h0M1208.9 301.3h0M1211.4 300.3h0M1214.2 301.2h0M1217.9 301.1h0M1220.3 300.9h0M1223.2 300.7h0M1227.1 300.6h0M1229.9 300.7h0M1232.9 300.8h0M1235.7 300.8h0M1204.6 303.6h0M1207.6 303.0h0M1209.9 303.1h0M1213.2 302.8h0M1216.2 303.2h0M1218.7 303.4h0M1222.5 303.4h0M1225.1 302.9h0M1227.9 303.0h0M1231.3 302.9h0M1233.9 303.6h0M1206.2 306.2h0M1209.0 306.4h0M1212.2 305.5h0M1214.4 306.3h0M1217.8 305.5h0M1221.0 305.3h0M1224.0 306.4h0M1226.8 305.7h0M1229.7 306.0h0M1232.5 305.6h0M1206.0 307.9h0M1208.9 308.5h0M1212.1 308.4h0M1214.3 308.3h0M1217.5 308.7h0M1221.2 308.5h0M1223.4 309.1h0M1227.2 308.9h0M1229.3 308.9h0M1233.3 308.4h0M1205.9 311.4h0M1208.9 310.7h0M1211.8 310.8h0M1214.5 310.6h0M1218.0 311.3h0M1220.7 311.3h0M1223.3 310.7h0M1226.4 310.7h0M1229.3 310.5h0M1232.7 311.0h0M1206.3 314.2h0M1208.5 313.8h0M1211.9 314.2h0M1215.3 314.1h0M1218.3 314.0h0M1221.0 314.3h0M1223.6 313.8h0M1227.1 313.7h0M1230.0 314.0h0M1232.9 313.5h0M1202.2 316.2h0M1205.9 315.8h0M1209.1 316.5h0M1211.2 316.8h0M1214.2 316.3h0M1217.9 316.0h0M1220.6 316.8h0M1223.4 316.4h0M1226.4 315.9h0M1229.9 316.2h0M1232.9 316.5h0M1235.3 316.1h0M1190.4 319.4h0M1194.2 318.8h0M1196.3 319.2h0M1200.0 318.6h0M1203.2 318.7h0M1206.3 318.5h0M1209.1 319.0h0M1211.8 318.5h0M1214.5 318.9h0M1218.1 319.1h0M1220.9 318.4h0M1223.3 319.2h0M1227.1 319.4h0M1229.9 318.6h0M1232.7 319.3h0M1235.2 318.4h0M1238.9 318.7h0M1242.1 319.3h0M1244.4 319.4h0M1247.2 319.0h0M1191.8 321.2h0M1195.2 321.0h0M1198.4 321.1h0M1201.0 321.5h0M1204.0 321.2h0M1207.5 321.5h0M1210.8 322.0h0M1213.5 321.1h0M1216.4 321.5h0M1219.0 321.8h0M1221.8 321.9h0M1225.1 321.6h0M1227.8 321.5h0M1230.8 321.0h0M1234.8 321.0h0M1237.4 322.0h0M1240.6 321.4h0M1243.8 321.6h0M1246.4 321.0h0M1194.2 324.3h0M1196.4 324.5h0M1199.9 324.5h0M1202.7 324.5h0M1205.6 324.0h0M1209.0 323.7h0M1211.4 323.9h0M1214.2 323.5h0M1217.7 323.5h0M1220.9 323.9h0M1224.2 324.5h0M1227.0 324.3h0M1229.6 324.0h0M1232.6 323.6h0M1235.5 323.5h0M1239.1 324.2h0M1241.2 324.0h0M1244.8 324.2h0M1198.6 327.1h0M1201.8 326.4h0M1203.9 327.2h0M1206.9 327.0h0M1210.6 326.5h0M1213.4 326.8h0M1216.4 326.4h0M1219.0 326.7h0M1222.2 326.5h0M1225.2 326.7h0M1228.3 326.5h0M1230.7 326.7h0M1234.1 326.2h0M1237.1 326.8h0M1239.7 327.2h0M1201.0 329.0h0M1204.7 329.9h0M1207.6 328.8h0M1210.7 329.2h0M1213.1 329.3h0M1216.5 329.3h0M1219.4 329.5h0M1222.8 329.2h0M1225.1 329.3h0M1228.6 329.6h0M1231.5 329.7h0M1234.8 328.7h0M1237.8 329.6h0M1200.7 332.3h0M1204.0 332.4h0M1207.8 332.1h0M1210.4 332.5h0M1213.1 331.6h0M1215.9 332.5h0M1219.7 332.2h0M1222.4 332.5h0M1224.9 331.9h0M1227.7 332.1h0M1231.8 332.2h0M1234.0 331.6h0M1237.2 331.3h0M1201.0 334.6h0M1204.2 334.6h0M1207.8 334.8h0M1209.7 334.8h0M1213.6 334.2h0M1216.4 334.5h0M1219.0 334.3h0M1222.3 334.0h0M1225.6 334.1h0M1228.8 334.2h0M1231.0 335.1h0M1234.0 334.7h0M1236.9 334.3h0M1198.6 337.3h0M1201.0 336.6h0M1204.1 336.6h0M1206.8 337.0h0M1210.4 337.1h0M1213.8 336.9h0M1215.8 337.7h0M1219.2 337.4h0M1221.7 336.5h0M1225.3 336.8h0M1228.5 336.8h0M1231.1 336.5h0M1234.4 336.6h0M1236.9 336.7h0M1240.0 337.4h0M1197.1 339.1h0M1200.0 339.8h0M1202.9 339.2h0M1206.1 340.0h0M1209.3 339.5h0M1211.6 339.9h0M1214.3 339.9h0M1217.2 339.8h0M1220.6 339.9h0M1223.6 339.3h0M1227.3 339.3h0M1229.6 340.0h0M1233.1 340.3h0M1235.8 340.2h0M1239.2 339.9h0M1241.8 339.4h0M1196.3 342.4h0M1200.2 342.8h0M1202.6 342.7h0M1205.9 341.9h0M1208.9 342.3h0M1211.6 342.7h0M1215.3 342.0h0M1217.4 342.6h0M1220.2 342.3h0M1224.1 342.6h0M1226.8 342.4h0M1229.2 342.1h0M1233.3 341.9h0M1235.5 342.3h0M1239.0 342.8h0M1241.6 342.0h0M1196.7 344.7h0M1199.9 345.4h0M1202.4 345.2h0M1206.1 344.3h0M1208.8 344.5h0M1211.4 344.9h0M1214.9 344.9h0M1217.5 344.7h0M1220.8 344.4h0M1223.5 344.6h0M1227.2 345.4h0M1229.2 344.6h0M1232.8 344.5h0M1236.1 344.4h0M1238.3 345.5h0M1242.0 345.3h0M1202.8 347.8h0M1205.7 347.0h0M1208.3 347.6h0M1211.9 347.1h0M1214.5 347.1h0M1217.6 347.5h0M1220.9 347.0h0M1224.3 347.0h0M1226.9 347.7h0M1229.5 347.8h0M1232.6 347.1h0M1236.1 347.6h0M1206.8 349.5h0M1210.2 349.8h0M1213.7 349.9h0M1216.1 350.4h0M1218.8 350.3h0M1222.7 350.7h0M1225.2 350.5h0M1227.8 350.7h0M1230.8 350.1h0M1210.4 352.7h0M1212.9 352.9h0M1215.9 352.2h0M1219.7 352.7h0M1222.1 352.7h0M1225.2 352.4h0M1227.8 353.3h0M1212.1 355.1h0M1214.8 355.0h0M1218.0 355.7h0M1221.2 354.9h0M1223.2 355.4h0M1227.0 355.6h0M1211.3 357.8h0M1214.5 358.4h0M1217.7 358.1h0M1220.2 357.4h0M1224.2 357.6h0M1226.2 357.9h0M1212.3 359.9h0M1215.0 360.7h0M1218.0 360.1h0M1221.0 360.9h0M1223.4 360.7h0M1226.6 360.1h0M1213.0 362.8h0M1215.8 363.6h0M1219.0 363.3h0M1222.8 363.4h0M1224.7 362.7h0M1213.6 365.1h0M1216.2 365.9h0M1218.8 366.2h0M1221.7 365.5h0M1225.7 366.2h0M1216.5 368.2h0M1219.4 368.9h0M1222.0 368.8h0M1217.4 370.7h0M1220.9 370.5h0M1217.6 373.1h0M1221.1 374.0h0M1219.4 376.0h0M1219.5 379.2h0M1219.2 380.8h0M1217.5 384.4h0M1221.0 383.9h0M1217.8 387.0h0M1220.7 386.9h0M1218.0 389.3h0M1220.3 389.6h0M1219.2 404.1h0" stroke="#f9c648" stroke-width="3.7" stroke-linecap="round" fill="none"/>
<path d="M1070.0 132.1V447.9M1056.1 447.9H1280.8M1056.1 133.7H1070.0M1056.1 212.2H1070.0M1056.1 290.8H1070.0M1056.1 369.3H1070.0M1129.7 447.9v13.4M1219.2 447.9v13.4" stroke="#000" stroke-width="3.2" fill="none"/>
<text x="1053.33" y="142.6" font-size="24" text-anchor="end">2.0</text>
<text transform="translate(1056.87,221.1) scale(0.92,1)" font-size="24.5" text-anchor="end">1.5</text>
<text transform="translate(1057.14,268.2) scale(0.92,1)" font-size="24.5" text-anchor="end">1.2</text>
<text x="1053.33" y="299.7" font-size="24" text-anchor="end">1.0</text>
<text x="1053.01" y="378.2" font-size="24" text-anchor="end">0.5</text>
<text x="1053.33" y="456.8" font-size="24" text-anchor="end">0.0</text>
<text transform="translate(1005.8,404.0) rotate(-90)" x="-1.09" y="0" font-size="26.5" style="letter-spacing:-0.45px;word-spacing:6.76px">Creatinine (mg/dL)</text>
<path d="M1130.4 143V117.2H1221.7V143" stroke="#000" stroke-width="3.2" fill="none" stroke-linejoin="miter"/>
<text transform="translate(1136.69,107.2) scale(0.92,1)" font-size="24" style="letter-spacing:-0.15px"><tspan font-style="italic">p</tspan>=0.018</text>
<text x="1129.3" y="104.8" font-size="20">*</text>
<g transform="translate(1136.0,474.0) rotate(-45)"><text class="xl" text-anchor="end" x="0" y="0">On-label</text><text class="xl" text-anchor="end" x="0" y="31">standard-dose</text></g>
<g transform="translate(1258.2,479.3) rotate(-45)"><text class="xl" text-anchor="end" x="0" y="0">Off-label</text><text class="xl" text-anchor="end" x="0" y="31">reduced dose</text></g>
<path d="M1405.20 186.4H1604.20" stroke="#000" stroke-width="2.9" stroke-linecap="round" stroke-dasharray="0 9.43" fill="none"/>
<path d="M1405.20 212.6H1604.20" stroke="#000" stroke-width="2.9" stroke-linecap="round" stroke-dasharray="0 9.43" fill="none"/>
<path d="M1451.5 191.6h0M1455.2 191.6h0M1459.0 191.6h0M1455.2 196.8h0M1445.8 202.1h0M1449.5 202.1h0M1453.3 202.1h0M1457.2 202.1h0M1461.0 202.1h0M1464.8 202.1h0M1451.5 207.3h0M1455.2 207.3h0M1459.0 207.3h0M1449.5 212.6h0M1453.3 212.6h0M1457.2 212.6h0M1461.0 212.6h0M1447.7 217.8h0M1451.5 217.8h0M1455.2 217.8h0M1459.0 217.8h0M1462.8 217.8h0M1455.2 223.0h0M1453.3 228.3h0M1457.2 228.3h0M1451.5 233.5h0M1455.2 233.5h0M1459.0 233.5h0M1451.5 238.7h0M1455.2 238.7h0M1459.0 238.7h0M1455.2 244.0h0M1455.2 249.2h0M1451.5 254.4h0M1455.2 254.4h0M1459.0 254.4h0M1447.7 259.7h0M1451.5 259.7h0M1455.2 259.7h0M1459.0 259.7h0M1462.8 259.7h0M1455.2 264.9h0M1453.3 270.2h0M1457.2 270.2h0M1455.2 275.4h0M1453.3 280.6h0M1457.2 280.6h0M1455.2 306.8h0M1455.2 327.8h0M1453.3 338.2h0M1457.2 338.2h0M1455.2 353.9h0" stroke="#ee5f4d" stroke-width="3.7" stroke-linecap="round" fill="none"/>
<path d="M1523.8 191.6h0M1529.1 191.6h0M1534.4 191.6h0M1539.6 191.6h0M1544.9 191.6h0M1550.2 191.6h0M1555.4 191.6h0M1560.7 191.6h0M1566.0 191.6h0M1529.1 196.8h0M1534.4 196.8h0M1539.6 196.8h0M1544.9 196.8h0M1550.2 196.8h0M1555.4 196.8h0M1560.7 196.8h0M1523.8 202.1h0M1529.1 202.1h0M1534.4 202.1h0M1539.6 202.1h0M1544.9 202.1h0M1550.2 202.1h0M1555.4 202.1h0M1560.7 202.1h0M1566.0 202.1h0M1518.6 207.3h0M1523.8 207.3h0M1529.1 207.3h0M1534.4 207.3h0M1539.6 207.3h0M1544.9 207.3h0M1550.2 207.3h0M1555.4 207.3h0M1560.7 207.3h0M1566.0 207.3h0M1571.2 207.3h0M1534.4 212.6h0M1539.6 212.6h0M1544.9 212.6h0M1550.2 212.6h0M1555.4 212.6h0M1537.0 217.8h0M1542.3 217.8h0M1547.5 217.8h0M1552.8 217.8h0M1521.2 223.0h0M1526.5 223.0h0M1531.7 223.0h0M1537.0 223.0h0M1542.3 223.0h0M1547.5 223.0h0M1552.8 223.0h0M1558.1 223.0h0M1563.3 223.0h0M1568.6 223.0h0M1534.4 228.3h0M1539.6 228.3h0M1544.9 228.3h0M1550.2 228.3h0M1555.4 228.3h0M1531.7 233.5h0M1537.0 233.5h0M1542.3 233.5h0M1547.5 233.5h0M1552.8 233.5h0M1558.1 233.5h0M1529.1 238.7h0M1534.4 238.7h0M1539.6 238.7h0M1544.9 238.7h0M1550.2 238.7h0M1555.4 238.7h0M1560.7 238.7h0M1537.0 244.0h0M1542.3 244.0h0M1547.5 244.0h0M1552.8 244.0h0M1544.9 249.2h0M1537.0 254.4h0M1542.3 254.4h0M1547.5 254.4h0M1552.8 254.4h0M1537.0 259.7h0M1542.3 259.7h0M1547.5 259.7h0M1552.8 259.7h0M1542.3 264.9h0M1547.5 264.9h0M1542.3 270.2h0M1547.5 270.2h0M1544.9 275.4h0M1544.9 280.6h0M1537.0 285.9h0M1542.3 285.9h0M1547.5 285.9h0M1552.8 285.9h0M1542.3 291.1h0M1547.5 291.1h0M1544.9 296.3h0M1544.9 301.6h0M1544.9 317.3h0M1544.9 327.8h0M1544.9 333.0h0M1544.9 385.4h0" stroke="#f9c648" stroke-width="3.7" stroke-linecap="round" fill="none"/>
<path d="M1395.8 132.1V447.9M1381.9 447.9H1607.0M1381.9 133.7H1395.8M1381.9 186.1H1395.8M1381.9 212.2H1395.8M1381.9 238.4H1395.8M1381.9 343.2H1395.8M1455.2 447.9v13.4M1544.9 447.9v13.4" stroke="#000" stroke-width="3.2" fill="none"/>
<text x="1379.08" y="142.6" font-size="24" text-anchor="end">90</text>
<text transform="translate(1382.92,194.9) scale(0.92,1)" font-size="24.5" text-anchor="end">80</text>
<text transform="translate(1382.62,221.1) scale(0.92,1)" font-size="24.5" text-anchor="end">75</text>
<text x="1379.08" y="247.3" font-size="24" text-anchor="end">70</text>
<text x="1379.08" y="352.1" font-size="24" text-anchor="end">50</text>
<text x="1379.08" y="456.8" font-size="24" text-anchor="end">30</text>
<text transform="translate(1339.0,357.1) rotate(-90)" x="-0.65" y="0" font-size="26.5" style="letter-spacing:-0.60px;word-spacing:0.42px">Age (years)</text>
<path d="M1454.8 143V117.2H1545.5V143" stroke="#000" stroke-width="3.2" fill="none" stroke-linejoin="miter"/>
<text transform="translate(1459.79,107.2) scale(0.92,1)" font-size="24" style="letter-spacing:-0.13px"><tspan font-style="italic">p</tspan>=0.216</text>
<g transform="translate(1450.5,474.0) rotate(-45)"><text class="xl" text-anchor="end" x="0" y="0">On-label</text><text class="xl" text-anchor="end" x="0" y="31">standard-dose</text></g>
<g transform="translate(1572.5,479.3) rotate(-45)"><text class="xl" text-anchor="end" x="0" y="0">Off-label</text><text class="xl" text-anchor="end" x="0" y="31">reduced dose</text></g>
<path d="M1736.70 401.1H1935.70" stroke="#000" stroke-width="2.9" stroke-linecap="round" stroke-dasharray="0 9.43" fill="none"/>
<path d="M1736.70 416.8H1935.70" stroke="#000" stroke-width="2.9" stroke-linecap="round" stroke-dasharray="0 9.43" fill="none"/>
<path d="M1787.0 292.6h0M1787.0 301.3h0M1787.0 309.2h0M1784.8 322.0h0M1789.0 322.5h0M1784.8 325.8h0M1789.0 328.8h0M1784.8 331.2h0M1789.0 335.0h0M1784.8 338.1h0M1781.0 341.6h0M1789.0 341.1h0M1792.9 341.4h0M1783.0 346.5h0M1787.0 348.7h0M1790.8 347.0h0M1779.0 353.0h0M1783.0 354.8h0M1787.0 352.7h0M1790.8 353.9h0M1794.9 353.9h0M1781.0 363.2h0M1788.8 362.6h0M1792.9 362.3h0M1784.8 366.3h0M1781.0 369.2h0M1784.8 372.3h0M1788.8 372.3h0M1792.9 373.2h0M1787.0 375.9h0M1790.8 375.9h0M1794.9 375.9h0M1779.0 376.8h0M1783.0 378.4h0M1776.9 381.3h0M1781.0 383.3h0M1784.8 385.2h0M1788.8 382.9h0M1792.9 385.2h0M1796.7 383.7h0M1781.0 388.5h0M1784.8 390.7h0M1788.8 391.3h0M1792.9 391.6h0M1788.8 394.3h0M1784.8 397.0h0M1783.0 398.5h0M1787.0 401.0h0M1790.8 403.5h0M1787.0 413.4h0M1787.0 199.9h0M1787.0 275.5h0" stroke="#ee5f4d" stroke-width="3.7" stroke-linecap="round" fill="none"/>
<path d="M1874.3 297.1h0M1878.8 296.5h0M1876.6 302.1h0M1872.1 313.0h0M1876.6 312.8h0M1881.2 311.2h0M1872.1 326.6h0M1876.6 329.7h0M1881.2 328.7h0M1872.1 338.0h0M1876.6 338.1h0M1885.7 337.8h0M1867.6 341.1h0M1881.2 341.1h0M1872.1 351.2h0M1876.6 350.3h0M1881.2 350.6h0M1869.8 354.4h0M1878.8 353.6h0M1874.3 356.8h0M1883.3 356.4h0M1856.4 359.9h0M1869.8 361.1h0M1887.8 359.9h0M1896.5 359.9h0M1860.9 363.3h0M1865.4 363.3h0M1874.3 363.8h0M1878.8 363.2h0M1883.3 361.5h0M1892.3 363.8h0M1865.4 369.4h0M1869.8 369.4h0M1874.3 369.4h0M1878.8 369.4h0M1883.3 369.4h0M1887.8 369.4h0M1863.1 372.5h0M1872.1 372.5h0M1876.6 373.7h0M1885.5 373.2h0M1890.0 373.7h0M1867.6 375.0h0M1881.1 375.5h0M1865.4 378.8h0M1869.8 378.8h0M1874.3 378.8h0M1878.8 378.2h0M1883.3 379.9h0M1887.8 379.5h0M1860.9 382.6h0M1869.8 383.7h0M1878.8 384.0h0M1883.3 382.2h0M1865.4 385.2h0M1874.3 385.2h0M1887.8 385.2h0M1892.3 385.2h0M1869.8 389.1h0M1874.3 389.1h0M1878.8 388.5h0M1887.8 389.1h0M1860.9 391.6h0M1865.4 391.9h0M1883.3 390.7h0M1892.3 391.6h0M1872.1 394.3h0M1881.1 394.3h0M1885.5 394.3h0M1863.1 395.7h0M1867.6 396.6h0M1876.6 396.4h0M1890.0 396.6h0M1867.6 397.4h0M1890.0 397.4h0M1876.6 396.5h0M1854.3 401.0h0M1858.8 401.0h0M1867.6 401.0h0M1872.1 401.0h0M1881.1 401.0h0M1885.5 401.9h0M1890.0 401.0h0M1894.5 401.0h0M1863.3 403.9h0M1876.6 403.9h0M1899.0 405.1h0M1849.8 406.7h0M1854.3 407.1h0M1858.8 407.1h0M1863.3 406.9h0M1885.5 407.1h0M1899.0 406.9h0M1867.6 408.7h0M1876.6 408.7h0M1881.1 409.6h0M1890.0 408.9h0M1872.1 410.0h0M1894.5 410.3h0M1903.5 410.3h0M1867.6 411.6h0M1872.1 412.7h0M1881.1 413.6h0M1876.6 413.6h0M1885.5 415.4h0M1876.6 193.0h0M1876.6 280.0h0" stroke="#f9c648" stroke-width="3.7" stroke-linecap="round" fill="none"/>
<path d="M1727.5 132.1V447.9M1713.5 447.9H1937.7M1713.5 133.7H1727.5M1713.5 212.2H1727.5M1713.5 290.8H1727.5M1713.5 369.3H1727.5M1787.0 447.9v13.4M1876.5 447.9v13.4" stroke="#000" stroke-width="3.2" fill="none"/>
<text x="1710.73" y="142.6" font-size="24" text-anchor="end">150</text>
<text x="1710.41" y="221.2" font-size="24" text-anchor="end">125</text>
<text x="1710.73" y="299.7" font-size="24" text-anchor="end">100</text>
<text x="1710.41" y="378.2" font-size="24" text-anchor="end">75</text>
<text transform="translate(1714.27,409.6) scale(0.92,1)" font-size="24.5" text-anchor="end">65</text>
<text transform="translate(1714.57,425.3) scale(0.92,1)" font-size="24.5" text-anchor="end">60</text>
<text x="1710.73" y="456.8" font-size="24" text-anchor="end">50</text>
<text transform="translate(1645.7,385.7) rotate(-90)" x="-1.76" y="0" font-size="26.5" style="letter-spacing:-0.65px;word-spacing:1.07px">Bodyweight (kg)</text>
<path d="M1786.6 143V117.2H1877.8V143" stroke="#000" stroke-width="3.2" fill="none" stroke-linejoin="miter"/>
<text transform="translate(1794.79,107.2) scale(0.92,1)" font-size="24" style="letter-spacing:-0.49px"><tspan font-style="italic">p</tspan>=0.001</text>
<text x="1787.4" y="104.8" font-size="20">*</text>
<g transform="translate(1776.9,474.0) rotate(-45)"><text class="xl" text-anchor="end" x="0" y="0">On-label</text><text class="xl" text-anchor="end" x="0" y="31">standard-dose</text></g>
<g transform="translate(1899.2,479.3) rotate(-45)"><text class="xl" text-anchor="end" x="0" y="0">Off-label</text><text class="xl" text-anchor="end" x="0" y="31">reduced dose</text></g>
</svg>
</body>
</html>
